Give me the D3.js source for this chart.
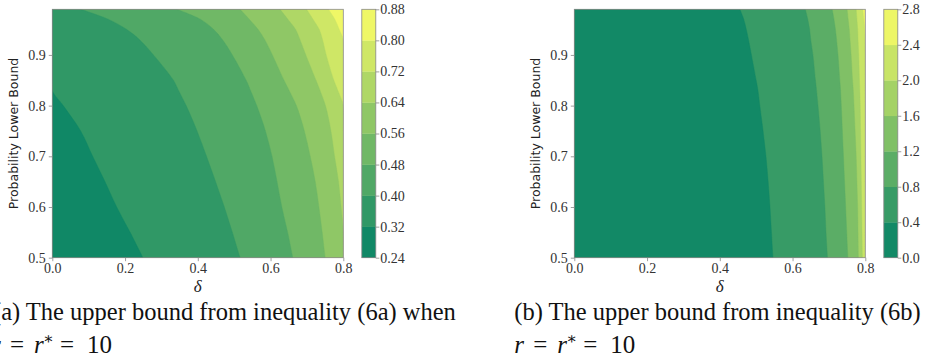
<!DOCTYPE html>
<html>
<head>
<meta charset="utf-8">
<script src="https://cdn.jsdelivr.net/npm/d3@7"></script>
<style>
  body { margin: 0; background: #fff; }
  svg { display: block; }
  .tick text { font-family: "Liberation Serif", "DejaVu Serif", serif; font-size: 14px; fill: #333; }
</style>
</head>
<body>
<svg id="fig" width="925" height="360"></svg>
<script>
// rows of the contour plots (probability lower bound)
const pGrid = [0.5, 0.55, 0.6, 0.65, 0.7, 0.75, 0.8, 0.83, 0.85, 0.9, 0.93, 0.95, 0.97, 0.99];

// (a) levels, and the delta where each level is crossed on every row
const levelsA = [0.24, 0.32, 0.40, 0.48, 0.56, 0.64, 0.72, 0.80, 0.88];
const edgeA032 = [0.249, 0.214, 0.177, 0.145, 0.111, 0.078, 0.030, 0, 0, 0, 0, 0, 0, 0];
const edgeA040 = [0.516, 0.495, 0.473, 0.449, 0.424, 0.398, 0.368, 0.347, 0.333, 0.278, 0.240, 0.205, 0.155, 0.078];
const edgeA048 = [0.661, 0.647, 0.631, 0.618, 0.604, 0.586, 0.562, 0.545, 0.533, 0.495, 0.468, 0.444, 0.408, 0.342];
const edgeA056 = [0.750, 0.742, 0.733, 0.723, 0.709, 0.693, 0.671, 0.651, 0.637, 0.605, 0.584, 0.566, 0.542, 0.516];
const edgeA064 = [0.8, 0.8, 0.794, 0.787, 0.776, 0.766, 0.751, 0.736, 0.725, 0.697, 0.681, 0.669, 0.648, 0.626];
const edgeA072 = [0.8, 0.8, 0.8, 0.8, 0.8, 0.8, 0.8, 0.785, 0.774, 0.753, 0.743, 0.734, 0.717, 0.699];
const edgeA080 = [0.8, 0.8, 0.8, 0.8, 0.8, 0.8, 0.8, 0.8, 0.8, 0.8, 0.8, 0.789, 0.777, 0.759];

// (b)
const levelsB = [0.0, 0.4, 0.8, 1.2, 1.6, 2.0, 2.4, 2.8];
const edgeB04 = [0.546, 0.542, 0.538, 0.533, 0.527, 0.519, 0.510, 0.505, 0.500, 0.487, 0.479, 0.473, 0.466, 0.455];
const edgeB08 = [0.696, 0.692, 0.689, 0.685, 0.681, 0.676, 0.670, 0.666, 0.663, 0.656, 0.650, 0.647, 0.642, 0.635];
const edgeB12 = [0.752, 0.749, 0.746, 0.743, 0.740, 0.737, 0.734, 0.732, 0.730, 0.725, 0.721, 0.718, 0.714, 0.709];
const edgeB16 = [0.781, 0.780, 0.779, 0.777, 0.775, 0.772, 0.769, 0.767, 0.765, 0.761, 0.758, 0.756, 0.753, 0.750];
const edgeB20 = [0.792, 0.791, 0.790, 0.789, 0.788, 0.787, 0.786, 0.785, 0.784, 0.782, 0.780, 0.779, 0.777, 0.775];
const edgeB24 = [0.8, 0.8, 0.8, 0.8, 0.8, 0.8, 0.8, 0.8, 0.8, 0.8, 0.799, 0.798, 0.796, 0.793];

const xTicks = [0, 0.2, 0.4, 0.6, 0.8];
const yTicks = [0.5, 0.6, 0.7, 0.8, 0.9];

const svg = d3.select('#fig');
const top0 = 9.3, bottom0 = 257.7;
const plotW = 291;
const serif = '"Liberation Serif", "DejaVu Serif", serif';

// summer colormap
const summer = d3.scaleLinear().domain([0, 1]).range(['#008066', '#ffff66']);

function panel(id, left, levels, edges, cbFormat) {
    const g = svg.append('g');
    const x = d3.scaleLinear().domain([0, 0.8]).range([left, left + plotW]);
    const y = d3.scaleLinear().domain([0.5, 0.99]).range([bottom0, top0]);
    const nb = levels.length - 1;
    const bandColor = i => summer((i + 0.5) / nb);

    g.append('clipPath').attr('id', 'clip' + id)
        .append('rect')
        .attr('x', x(0)).attr('y', y(0.99))
        .attr('width', x(0.8) - x(0)).attr('height', y(0.5) - y(0.99));

    const body = g.append('g').attr('clip-path', `url(#clip${id})`);
    body.append('rect')
        .attr('x', x(0)).attr('y', y(0.99))
        .attr('width', x(0.8) - x(0)).attr('height', y(0.5) - y(0.99))
        .attr('fill', bandColor(nb - 1));

    //from the highest level down, paint what lies left of each edge
    const area = d3.area()
        .curve(d3.curveCatmullRom.alpha(0.5))
        .y((d, i) => y(pGrid[i]))
        .x0(x(0) - 5)
        .x1(d => x(d));
    for (let k = edges.length - 1; k >= 0; k--) {
        body.append('path')
            .attr('d', area(edges[k]))
            .attr('fill', bandColor(k))
            .attr('stroke', bandColor(k))
            .attr('stroke-width', 0.4);
    }

    // axes
    const ax = g.append('g').attr('transform', `translate(0,${bottom0})`)
        .call(d3.axisBottom(x).tickValues(xTicks).tickFormat(d3.format('.1f')).tickSize(3.5).tickPadding(2));
    const ay = g.append('g').attr('transform', `translate(${left},0)`)
        .call(d3.axisLeft(y).tickValues(yTicks).tickFormat(d3.format('.1f')).tickSize(3.5).tickPadding(3));
    [ax, ay].forEach(a => {
        a.select('.domain').remove();
        a.attr('font-family', null).attr('font-size', null);
        a.selectAll('line').attr('stroke', '#888').attr('stroke-width', 0.8);
    });

    g.append('rect')
        .attr('x', x(0)).attr('y', y(0.99))
        .attr('width', x(0.8) - x(0)).attr('height', y(0.5) - y(0.99))
        .attr('fill', 'none').attr('stroke', '#888').attr('stroke-width', 0.8);

    g.append('text')
        .attr('transform', `translate(${left - 34},${(top0 + bottom0) / 2}) rotate(-90)`)
        .attr('text-anchor', 'middle')
        .attr('font-family', '"DejaVu Sans", sans-serif')
        .attr('font-size', 12.5)
        .attr('fill', '#222')
        .text('Probability Lower Bound');

    g.append('text')
        .attr('x', x(0.4)).attr('y', 292)
        .attr('text-anchor', 'middle')
        .attr('font-family', serif)
        .attr('font-style', 'italic')
        .attr('font-size', 17)
        .attr('fill', '#222')
        .text('δ');

    // colorbar
    const cbX = left + plotW + 18.5, cbW = 14;
    const cb = d3.scaleLinear().domain([levels[0], levels[nb]]).range([bottom0, top0]);
    g.append('g').selectAll('rect')
        .data(d3.range(nb))
        .join('rect')
        .attr('x', cbX)
        .attr('y', i => cb(levels[i + 1]))
        .attr('width', cbW)
        .attr('height', i => cb(levels[i]) - cb(levels[i + 1]) + 0.3)
        .attr('fill', i => bandColor(i));
    g.append('rect')
        .attr('x', cbX).attr('y', top0).attr('width', cbW).attr('height', bottom0 - top0)
        .attr('fill', 'none').attr('stroke', '#888').attr('stroke-width', 0.8);
    const ac = g.append('g').attr('transform', `translate(${cbX + cbW},0)`)
        .call(d3.axisRight(cb).tickValues(levels).tickFormat(d3.format(cbFormat)).tickSize(3.5).tickPadding(1));
    ac.select('.domain').remove();
    ac.attr('font-family', null).attr('font-size', null);
    ac.selectAll('line').attr('stroke', '#888').attr('stroke-width', 0.8);
}

panel('a', 52.3, levelsA, [edgeA032, edgeA040, edgeA048, edgeA056, edgeA064, edgeA072, edgeA080], '.2f');
panel('b', 574.3, levelsB, [edgeB04, edgeB08, edgeB12, edgeB16, edgeB20, edgeB24], '.1f');

// captions
function caption(xPos, mathX, line1) {
    svg.append('text')
        .attr('font-family', serif).attr('font-size', 24.5).attr('fill', '#111')
        .attr('x', xPos).attr('y', 320)
        .text(line1);
    const l2 = svg.append('g')
        .attr('font-family', serif).attr('font-size', 25).attr('fill', '#111');
    const put = (dx, s, italic, dy) => l2.append('text')
        .attr('x', mathX + dx).attr('y', 353 + (dy || 0))
        .attr('font-style', italic ? 'italic' : 'normal')
        .attr('font-size', dy ? 16 : null)
        .text(s);
    put(0, 'r', true);
    put(19, '=', false);
    put(43, 'r', true);
    put(52, '∗', false, -9);
    put(69, '=', false);
    put(96, '10', false);
}
caption(-7, -9, '(a) The upper bound from inequality (6a) when');
caption(514.3, 514.3, '(b) The upper bound from inequality (6b)');
</script>
</body>
</html>
